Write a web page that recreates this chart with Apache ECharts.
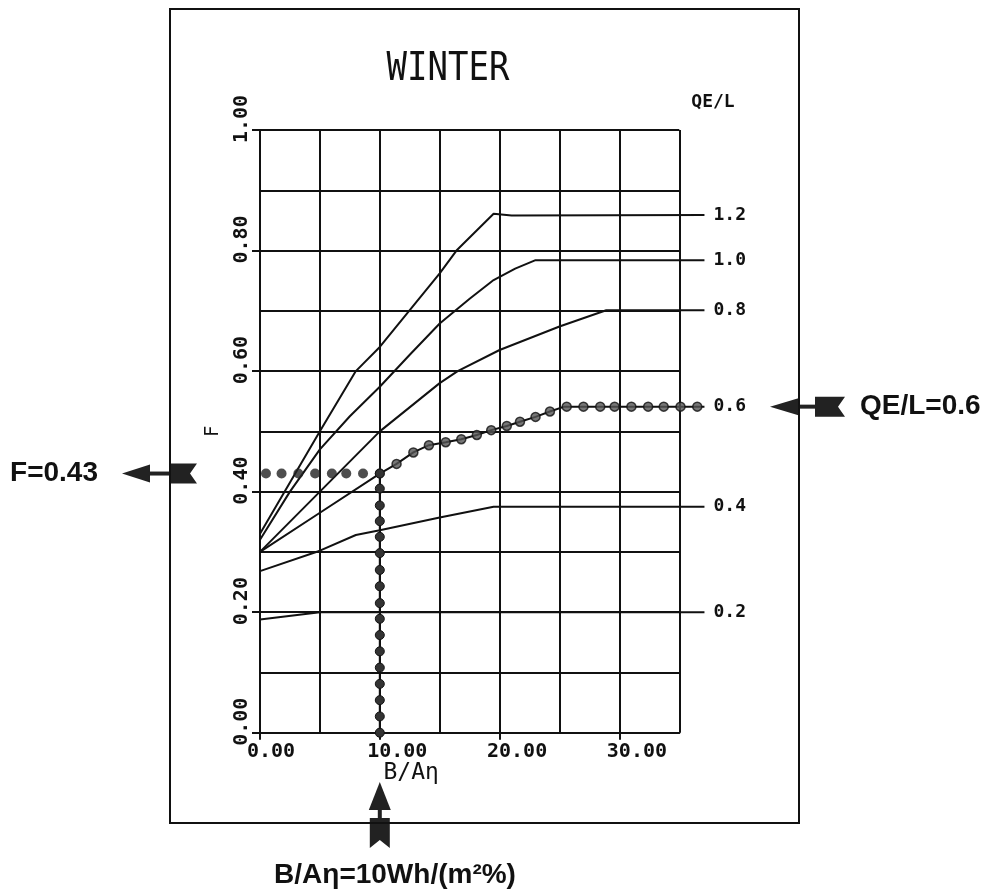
<!DOCTYPE html>
<html><head><meta charset="utf-8">
<script src="https://cdn.jsdelivr.net/npm/echarts@6/dist/echarts.min.js"></script>
<style>html,body{margin:0;padding:0;background:#fff}#c{width:986px;height:896px}</style>
</head><body><div id="c"></div>
<script>
// ---- data ----
const xTicks = [0, 10, 20, 30];
const yTicks = [0, 0.2, 0.4, 0.6, 0.8, 1.0];
const curveNames = ['1.2', '1.0', '0.8', '0.6', '0.4', '0.2'];

const x_12 = [0, 5, 8, 10, 15, 16.4, 19.5, 21, 37.1];
const f_12 = [0.33, 0.50, 0.60, 0.64, 0.762, 0.80, 0.861, 0.858, 0.859];

const x_10 = [0, 2.5, 5, 7.5, 10, 12.5, 15, 17.5, 19.5, 21.3, 23, 37.1];
const f_10 = [0.32, 0.40, 0.47, 0.525, 0.574, 0.627, 0.679, 0.72, 0.751, 0.770, 0.784, 0.784];

const x_08 = [0, 5, 10, 15, 16.5, 20, 25, 28.9, 37.1];
const f_08 = [0.30, 0.40, 0.50, 0.58, 0.60, 0.635, 0.674, 0.701, 0.701];

const x_06 = [0, 5, 10, 11.4, 12.8, 14.1, 15.5, 16.8, 18.1, 19.3, 20.6, 21.7, 23.0, 24.2, 25.4, 37.1];
const f_06 = [0.30, 0.365, 0.43, 0.446, 0.465, 0.477, 0.482, 0.487, 0.494, 0.502, 0.509, 0.516, 0.524, 0.533, 0.541, 0.541];

const x_04 = [0, 5, 8, 10, 15, 19.5, 37.1];
const f_04 = [0.268, 0.302, 0.328, 0.336, 0.357, 0.375, 0.375];

const x_02 = [0, 5, 37.1];
const f_02 = [0.188, 0.2, 0.2];

// dotted construction lines
const dotRowX = [0.5, 1.8, 3.2, 4.6, 6.0, 7.2, 8.6, 10];
const dotRowF = [0.43, 0.43, 0.43, 0.43, 0.43, 0.43, 0.43, 0.43];
const dotColX = [10, 10, 10, 10, 10, 10, 10, 10, 10, 10, 10, 10, 10, 10, 10, 10, 10];
const dotColF = [0.43, 0.405, 0.377, 0.351, 0.325, 0.298, 0.270, 0.243, 0.215, 0.189, 0.162, 0.135, 0.108, 0.081, 0.054, 0.027, 0];
const dotCurveX = [11.4, 12.8, 14.1, 15.5, 16.8, 18.1, 19.3, 20.6, 21.7, 23.0, 24.2, 25.6, 27.0, 28.4, 29.6, 31.0, 32.4, 33.7, 35.1, 36.5];
const dotCurveF = [0.446, 0.465, 0.477, 0.482, 0.487, 0.494, 0.502, 0.509, 0.516, 0.524, 0.533, 0.541, 0.541, 0.541, 0.541, 0.541, 0.541, 0.541, 0.541, 0.541];

const titleText = 'WINTER';
const legendTitle = 'QE/L';
const xName = 'B/Aη';
const yName = 'F';
const noteF = 'F=0.43';
const noteQ = 'QE/L=0.6';
const noteB = 'B/Aη=10Wh/(m²%)';
const markF = 0.43, markQ = 0.541, markB = 10;
const xMax = 35, xCurveEnd = 37.1;

// ---- build ----
const zip = (xs, ys) => xs.map((x, i) => [x, ys[i]]);
const curveX = [x_12, x_10, x_08, x_06, x_04, x_02];
const curveF = [f_12, f_10, f_08, f_06, f_04, f_02];
const INK = '#111';
const MONO = '"DejaVu Sans Mono", monospace';
const SANS = '"Liberation Sans", Arial, sans-serif';

// plot box geometry
const G_LEFT = 260, G_TOP = 130, G_W = 419.3, G_H = 602.7, W = 986, H = 896;
const G2_W = G_W * xCurveEnd / xMax; // same scale, extended to the curve ends

const onCurves = { xAxisIndex: 1, yAxisIndex: 1 };
const series = curveNames.map((n, i) => ({
  type: 'line', name: n, data: zip(curveX[i], curveF[i]), ...onCurves,
  symbol: 'none', clip: false, z: 3,
  lineStyle: { color: INK, width: 2 },
  endLabel: { show: true, formatter: '{a}', distance: 9, color: INK,
    fontFamily: MONO, fontSize: 18, fontWeight: 'bold' }
}));
series.push({
  type: 'scatter', data: zip(dotRowX, dotRowF), ...onCurves, symbol: 'circle', symbolSize: 10, clip: false, z: 5,
  itemStyle: { color: '#222' }
});
series.push({
  type: 'line', data: zip(dotColX, dotColF), ...onCurves, symbol: 'circle', symbolSize: 9, showAllSymbol: true, clip: false, z: 5,
  lineStyle: { color: INK, width: 2 }, itemStyle: { color: '#333', borderColor: INK, borderWidth: 1 }
});
series.push({
  type: 'scatter', data: zip(dotCurveX, dotCurveF), ...onCurves, symbol: 'circle', symbolSize: 9, clip: false, z: 5,
  itemStyle: { color: '#555', borderColor: INK, borderWidth: 1.5 }
});

const labFont = { fontFamily: MONO, fontSize: 20, fontWeight: 'bold', color: INK };
const gridLine = { show: true, lineStyle: { color: INK, width: 2 } };

const chart = echarts.init(document.getElementById('c'));
chart.setOption({
  animation: false,
  backgroundColor: '#fff',
  grid: [
    { left: G_LEFT, top: G_TOP, right: W - G_LEFT - G_W, bottom: H - G_TOP - G_H },
    { left: G_LEFT, top: G_TOP, right: W - G_LEFT - G2_W, bottom: H - G_TOP - G_H }
  ],
  xAxis: [{
    gridIndex: 0, type: 'value', min: 0, max: xMax, interval: 5,
    name: xName, nameLocation: 'middle', nameGap: 29, nameMoveOverlap: false,
    nameTextStyle: { fontFamily: MONO, fontSize: 23, color: INK, padding: [0, 117, 0, 0] },
    axisLine: gridLine,
    axisTick: { show: false },
    axisLabel: {
      customValues: xTicks, margin: 9, ...labFont,
      formatter: v => (v < 10 ? '{s|' : '{l|') + v.toFixed(2) + '}',
      rich: { s: { ...labFont, padding: [0, 0, 0, 22] }, l: { ...labFont, padding: [0, 0, 0, 35] } }
    },
    splitLine: gridLine
  }, {
    gridIndex: 1, type: 'value', min: 0, max: xCurveEnd,
    axisLine: { show: false },
    axisTick: { show: true, length: 7, customValues: xTicks, lineStyle: { color: INK, width: 2 } },
    axisLabel: { show: false },
    splitLine: { show: false }
  }],
  yAxis: [{
    gridIndex: 0, type: 'value', min: 0, max: 1, interval: 0.1,
    name: yName, nameLocation: 'middle', nameRotate: 90, nameGap: 37, nameMoveOverlap: false,
    nameTextStyle: { fontFamily: MONO, fontSize: 19, color: INK },
    axisLine: gridLine,
    axisTick: { show: false },
    axisLabel: {
      customValues: yTicks, rotate: 90, margin: 8, ...labFont,
      padding: [0, 0, 0, 22],
      formatter: v => v.toFixed(2)
    },
    splitLine: gridLine
  }, {
    gridIndex: 1, type: 'value', min: 0, max: 1,
    axisLine: { show: false },
    axisTick: { show: true, length: 8, customValues: yTicks, lineStyle: { color: INK, width: 2 } },
    axisLabel: { show: false },
    splitLine: { show: false }
  }],
  series
});

// ---- annotations placed from data positions ----
const pF = chart.convertToPixel(onCurves, [0, markF]);
const pQ = chart.convertToPixel(onCurves, [0, markQ]);
const pB = chart.convertToPixel(onCurves, [markB, 0]);
const ARROW = '#222';
const poly = pts => ({ type: 'polygon', shape: { points: pts }, style: { fill: ARROW } });

function leftArrow(tip, headBase, shaftEnd, fl0, fl1, cy) {
  return [
    poly([[tip, cy], [headBase, cy - 9], [headBase, cy + 9]]),
    { type: 'rect', shape: { x: headBase - 2, y: cy - 2, width: shaftEnd - headBase + 2, height: 4 }, style: { fill: ARROW } },
    poly([[fl0, cy - 10], [fl1, cy - 10], [fl1 - 7, cy], [fl1, cy + 10], [fl0, cy + 10]])
  ];
}
const cyF = pF[1], cyQ = pQ[1], cxB = pB[0];
const graphics = [
  { type: 'rect', shape: { x: 170, y: 9, width: 629, height: 814 }, style: { fill: 'none', stroke: INK, lineWidth: 2 }, z: 10 },
  { type: 'text', x: 448, y: 70, scaleY: 1.15, style: { text: titleText, font: '34px "DejaVu Sans Mono"', fill: INK, align: 'center', verticalAlign: 'middle' } },
  { type: 'text', x: 713, y: 102, style: { text: legendTitle, font: 'bold 18px "DejaVu Sans Mono"', fill: INK, align: 'center', verticalAlign: 'middle' } },
  ...leftArrow(122, 150, 172, 170, 197, cyF),
  ...leftArrow(770, 800, 818, 815, 845, cyQ),
  { type: 'text', x: 54, y: cyF, style: { text: noteF, font: 'bold 28px ' + SANS, fill: INK, align: 'center', verticalAlign: 'middle' } },
  { type: 'text', x: 860, y: cyQ, style: { text: noteQ, font: 'bold 28px ' + SANS, fill: INK, align: 'left', verticalAlign: 'middle' } },
  poly([[cxB, 782], [cxB - 11, 810], [cxB + 11, 810]]),
  { type: 'rect', shape: { x: cxB - 2, y: 808, width: 4, height: 14 }, style: { fill: ARROW } },
  poly([[cxB - 10, 818], [cxB + 10, 818], [cxB + 10, 848], [cxB, 840], [cxB - 10, 848]]),
  { type: 'text', x: 395, y: 875, style: { text: noteB, font: 'bold 28px ' + SANS, fill: INK, align: 'center', verticalAlign: 'middle' } }
];
chart.setOption({ graphic: graphics });
</script>
</body></html>
